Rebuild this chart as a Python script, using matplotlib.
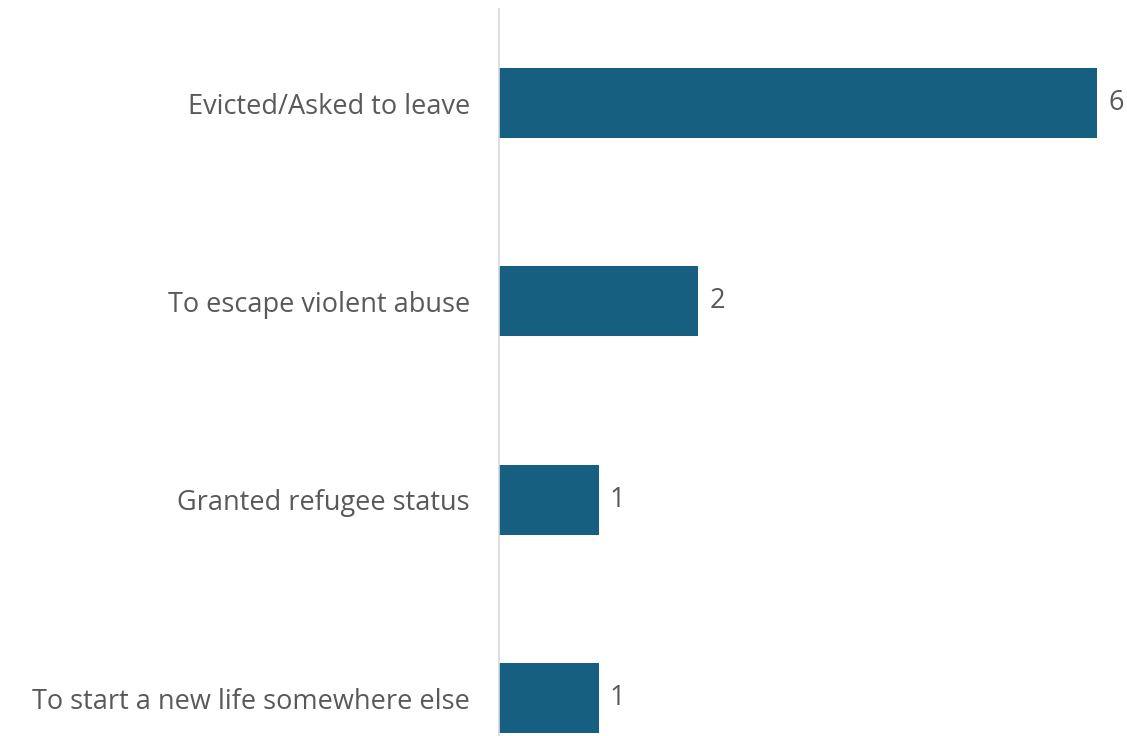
import matplotlib.pyplot as plt

reasons = [
    "Evicted/Asked to leave",
    "To escape violent abuse",
    "Granted refugee status",
    "To start a new life somewhere else",
]
counts = [6, 2, 1, 1]

bar_color = "#175f80"
text_color = "#595959"

plt.rcParams["font.family"] = ["Open Sans", "DejaVu Sans"]

fig = plt.figure(figsize=(11.27, 7.36), dpi=100)
ax = fig.add_axes([499 / 1127, 0.0, (1117 - 499) / 1127, 727 / 736])

ypos = list(range(len(reasons)))
bars = ax.barh(ypos, counts, height=0.353, color=bar_color)

ax.set_xlim(0, 6.2)
ax.set_ylim(3.19, -0.474)

ax.set_yticks(ypos)
ax.set_yticklabels(reasons, fontsize=19.5, color=text_color)
ax.tick_params(axis="y", length=0, pad=21)
ax.set_xticks([])

for side in ["top", "right", "bottom"]:
    ax.spines[side].set_visible(False)
ax.spines["left"].set_color("#d9d9d9")
ax.spines["left"].set_linewidth(1.2)

for b, v in zip(bars, counts):
    ax.annotate(str(v), (b.get_width(), b.get_y() + b.get_height() / 2),
                xytext=(8, 0), textcoords="offset points",
                va="center", ha="left", fontsize=19.5, color=text_color)

fig.savefig("out.png", dpi=100)
